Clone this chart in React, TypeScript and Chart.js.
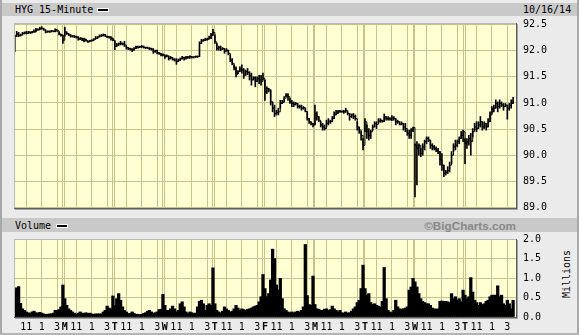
import React, { useEffect, useRef } from 'react';
import { Chart, registerables } from 'chart.js';

Chart.register(...registerables);

const MONO = '"DejaVu Sans Mono", monospace';
const GRID = '#c4c48c';

const dayLetters = ['F', 'M', 'T', 'W', 'T', 'F', 'M', 'T', 'W', 'T'];
const hourLabels = ['11', '1', '3'];
const hourOffsets = [6, 14, 22];
const barsPerDay = 26;
const priceTicks = [89.0, 89.5, 90.0, 90.5, 91.0, 91.5, 92.0, 92.5];
const volumeTicks = [0, 0.5, 1.0, 1.5, 2.0];

const closes = [
  92.28, 92.32, 92.29, 92.30, 92.33, 92.34, 92.33, 92.36, 92.34, 92.36, 92.36, 92.41, 92.40, 92.42, 92.43, 92.40, 92.36, 92.37, 92.36, 92.38, 92.37, 92.40, 92.38, 92.32, 92.30, 92.20,
  92.36, 92.33, 92.30, 92.28, 92.28, 92.27, 92.26, 92.22, 92.24, 92.20, 92.22, 92.19, 92.17, 92.19, 92.20, 92.22, 92.24, 92.26, 92.28, 92.29, 92.31, 92.28, 92.27, 92.26, 92.24, 92.20,
  92.08, 92.11, 92.13, 92.14, 92.13, 92.11, 92.06, 92.04, 92.03, 92.01, 92.04, 92.08, 92.06, 92.08, 92.08, 92.06, 92.06, 92.05, 92.04, 92.03, 91.98, 92.00, 91.96, 91.95, 91.92, 91.92,
  91.89, 91.90, 91.85, 91.87, 91.83, 91.82, 91.79, 91.82, 91.85, 91.87, 91.85, 91.87, 91.88, 91.89, 91.87, 91.88, 91.89, 91.89, 92.14, 92.19, 92.20, 92.21, 92.22, 92.25, 92.30, 92.35,
  92.17, 92.04, 92.06, 92.03, 92.04, 91.99, 92.01, 91.95, 91.82, 91.76, 91.67, 91.55, 91.60, 91.65, 91.63, 91.53, 91.60, 91.58, 91.53, 91.44, 91.48, 91.41, 91.47, 91.44, 91.41, 91.47,
  91.21, 91.28, 91.25, 91.02, 90.90, 90.80, 90.82, 90.83, 90.99, 91.01, 91.09, 91.15, 91.12, 91.02, 90.99, 90.97, 90.99, 90.93, 90.93, 90.90, 90.91, 90.84, 90.70, 90.64, 90.61, 90.58,
  90.80, 90.74, 90.67, 90.58, 90.54, 90.51, 90.61, 90.64, 90.64, 90.70, 90.77, 90.80, 90.84, 90.84, 90.84, 90.83, 90.86, 90.80, 90.74, 90.77, 90.74, 90.70, 90.54, 90.48, 90.38, 90.19,
  90.64, 90.45, 90.38, 90.45, 90.54, 90.61, 90.59, 90.65, 90.67, 90.65, 90.74, 90.70, 90.70, 90.69, 90.72, 90.70, 90.64, 90.64, 90.59, 90.61, 90.54, 90.51, 90.42, 90.38, 90.48, 90.53,
  90.19, 90.13, 90.19, 90.03, 90.16, 90.26, 90.32, 90.29, 90.19, 90.16, 90.13, 90.10, 90.07, 89.91, 89.81, 89.65, 89.67, 89.71, 89.81, 90.00, 90.16, 90.19, 90.26, 90.32, 90.38, 90.45,
  90.22, 90.26, 90.32, 90.26, 90.45, 90.54, 90.51, 90.58, 90.64, 90.54, 90.61, 90.54, 90.64, 90.77, 90.88, 90.90, 90.99, 90.93, 90.99, 90.96, 90.93, 90.96, 90.90, 90.95, 90.99, 91.06,
];

const highs = [
  92.30, 92.37, 92.35, 92.32, 92.35, 92.36, 92.37, 92.37, 92.36, 92.37, 92.40, 92.43, 92.42, 92.45, 92.46, 92.43, 92.40, 92.38, 92.38, 92.39, 92.38, 92.42, 92.40, 92.36, 92.32, 92.30,
  92.45, 92.36, 92.33, 92.31, 92.29, 92.29, 92.28, 92.27, 92.25, 92.24, 92.24, 92.22, 92.19, 92.20, 92.21, 92.23, 92.27, 92.27, 92.30, 92.31, 92.32, 92.31, 92.28, 92.27, 92.27, 92.24,
  92.19, 92.14, 92.15, 92.18, 92.15, 92.18, 92.09, 92.06, 92.05, 92.04, 92.06, 92.09, 92.09, 92.09, 92.10, 92.09, 92.07, 92.07, 92.06, 92.05, 92.04, 92.01, 92.01, 91.97, 91.95, 91.94,
  91.92, 91.92, 91.90, 91.89, 91.87, 91.85, 91.85, 91.84, 91.86, 91.89, 91.88, 91.89, 91.89, 91.90, 91.89, 91.89, 91.90, 91.90, 92.17, 92.22, 92.22, 92.24, 92.24, 92.28, 92.33, 92.41,
  92.30, 92.14, 92.09, 92.09, 92.06, 92.04, 92.04, 92.01, 91.92, 91.85, 91.73, 91.69, 91.62, 91.69, 91.73, 91.66, 91.63, 91.66, 91.60, 91.57, 91.50, 91.50, 91.50, 91.53, 91.53, 91.57,
  91.44, 91.31, 91.28, 91.25, 91.02, 90.96, 90.86, 90.90, 91.05, 91.05, 91.12, 91.18, 91.18, 91.09, 91.05, 91.02, 91.01, 90.99, 90.96, 90.96, 90.93, 90.90, 90.83, 90.70, 90.64, 90.61,
  90.96, 90.83, 90.74, 90.64, 90.61, 90.58, 90.67, 90.70, 90.67, 90.74, 90.83, 90.86, 90.86, 90.86, 90.85, 90.86, 90.90, 90.83, 90.80, 90.79, 90.80, 90.77, 90.64, 90.54, 90.45, 90.32,
  90.70, 90.58, 90.51, 90.48, 90.58, 90.64, 90.64, 90.70, 90.70, 90.67, 90.79, 90.74, 90.74, 90.72, 90.76, 90.74, 90.70, 90.67, 90.64, 90.64, 90.61, 90.61, 90.48, 90.48, 90.51, 90.54,
  90.22, 90.26, 90.22, 90.13, 90.22, 90.29, 90.35, 90.35, 90.29, 90.22, 90.19, 90.16, 90.13, 90.07, 90.03, 89.81, 89.71, 89.78, 89.87, 90.07, 90.22, 90.29, 90.29, 90.35, 90.45, 90.48,
  90.32, 90.32, 90.38, 90.42, 90.51, 90.61, 90.64, 90.64, 90.74, 90.64, 90.64, 90.61, 90.70, 90.83, 90.93, 90.96, 91.06, 91.02, 91.06, 91.02, 90.99, 90.99, 90.96, 90.99, 91.06, 91.11,
];

const lows = [
  91.98, 92.27, 92.27, 92.28, 92.30, 92.32, 92.32, 92.33, 92.33, 92.34, 92.35, 92.36, 92.39, 92.40, 92.41, 92.39, 92.34, 92.35, 92.35, 92.36, 92.36, 92.36, 92.37, 92.30, 92.28, 92.14,
  92.28, 92.31, 92.29, 92.26, 92.26, 92.25, 92.24, 92.20, 92.21, 92.19, 92.17, 92.18, 92.16, 92.17, 92.18, 92.19, 92.22, 92.23, 92.26, 92.27, 92.28, 92.27, 92.25, 92.24, 92.20, 92.19,
  92.02, 92.08, 92.10, 92.11, 92.11, 92.08, 92.03, 92.02, 92.01, 91.98, 92.01, 92.04, 92.05, 92.06, 92.06, 92.05, 92.04, 92.04, 92.02, 92.01, 91.95, 91.97, 91.94, 91.93, 91.90, 91.90,
  91.85, 91.88, 91.82, 91.84, 91.82, 91.80, 91.74, 91.79, 91.81, 91.84, 91.82, 91.84, 91.85, 91.85, 91.86, 91.86, 91.87, 91.87, 91.89, 92.14, 92.18, 92.19, 92.20, 92.22, 92.23, 92.29,
  92.14, 92.01, 92.01, 92.00, 92.02, 91.95, 91.99, 91.92, 91.79, 91.73, 91.63, 91.50, 91.56, 91.60, 91.57, 91.47, 91.53, 91.54, 91.44, 91.34, 91.44, 91.31, 91.41, 91.37, 91.34, 91.44,
  91.05, 91.18, 91.21, 90.96, 90.83, 90.74, 90.77, 90.77, 90.90, 90.99, 91.02, 91.12, 91.05, 90.99, 90.93, 90.93, 90.96, 90.90, 90.90, 90.86, 90.88, 90.83, 90.67, 90.61, 90.58, 90.54,
  90.58, 90.67, 90.64, 90.54, 90.48, 90.48, 90.54, 90.58, 90.61, 90.64, 90.70, 90.77, 90.80, 90.82, 90.82, 90.80, 90.82, 90.77, 90.67, 90.72, 90.70, 90.67, 90.48, 90.42, 90.29, 90.10,
  90.45, 90.32, 90.29, 90.32, 90.48, 90.54, 90.51, 90.61, 90.63, 90.63, 90.64, 90.67, 90.67, 90.67, 90.66, 90.67, 90.58, 90.61, 90.58, 90.58, 90.48, 90.45, 90.38, 90.32, 90.32, 90.45,
  89.20, 89.43, 90.00, 89.97, 90.00, 90.10, 90.22, 90.26, 90.13, 90.10, 90.10, 90.07, 90.03, 89.81, 89.71, 89.59, 89.62, 89.65, 89.68, 89.84, 90.07, 90.10, 90.16, 90.22, 90.32, 90.26,
  89.84, 90.13, 90.19, 90.00, 90.35, 90.48, 90.45, 90.51, 90.54, 90.48, 90.51, 90.48, 90.54, 90.64, 90.80, 90.83, 90.90, 90.83, 90.90, 90.93, 90.86, 90.93, 90.69, 90.86, 90.90, 90.99,
];

const volumes = [
  0.65, 0.75, 0.78, 0.35, 0.21, 0.17, 0.13, 0.11, 0.09, 0.13, 0.15, 0.11, 0.10, 0.12, 0.10, 0.08, 0.07, 0.07, 0.08, 0.08, 0.10, 0.17, 0.17, 0.19, 0.26, 0.82,
  0.47, 0.30, 0.21, 0.17, 0.13, 0.10, 0.07, 0.10, 0.13, 0.10, 0.09, 0.11, 0.09, 0.10, 0.08, 0.07, 0.08, 0.08, 0.08, 0.08, 0.13, 0.17, 0.28, 0.23, 0.21, 0.54,
  0.30, 0.47, 0.60, 0.43, 0.26, 0.17, 0.13, 0.09, 0.09, 0.13, 0.09, 0.07, 0.07, 0.06, 0.07, 0.09, 0.11, 0.15, 0.17, 0.13, 0.10, 0.11, 0.13, 0.19, 0.20, 0.58,
  0.30, 0.17, 0.17, 0.21, 0.28, 0.21, 0.13, 0.17, 0.34, 0.39, 0.26, 0.13, 0.09, 0.13, 0.11, 0.09, 0.10, 0.26, 0.40, 0.43, 0.34, 0.17, 0.30, 0.34, 0.30, 1.26,
  0.34, 0.17, 0.13, 0.11, 0.15, 0.26, 0.21, 0.17, 0.13, 0.15, 0.21, 0.30, 0.23, 0.17, 0.21, 0.19, 0.17, 0.20, 0.21, 0.23, 0.26, 0.28, 0.30, 0.39, 0.52, 1.09,
  0.73, 0.52, 0.60, 0.95, 1.74, 1.50, 0.82, 0.69, 0.99, 0.47, 0.21, 0.17, 0.13, 0.11, 0.13, 0.11, 0.13, 0.15, 0.13, 0.17, 0.26, 1.86, 0.55, 0.32, 0.30, 1.05,
  0.32, 0.21, 0.20, 0.17, 0.17, 0.20, 0.21, 0.17, 0.19, 0.28, 0.21, 0.17, 0.13, 0.17, 0.11, 0.10, 0.13, 0.10, 0.11, 0.15, 0.21, 0.26, 0.37, 0.43, 0.73, 1.33,
  0.73, 0.56, 0.60, 0.37, 0.32, 0.34, 0.30, 0.28, 0.26, 0.40, 1.27, 0.47, 0.17, 0.13, 0.11, 0.17, 0.43, 0.26, 0.21, 0.20, 0.21, 0.23, 0.26, 0.69, 0.77, 0.99,
  0.90, 0.77, 0.60, 0.47, 0.40, 0.37, 0.34, 0.34, 0.30, 0.23, 0.21, 0.20, 0.21, 0.40, 0.41, 0.40, 0.40, 0.39, 0.37, 0.60, 0.47, 0.52, 0.43, 0.47, 0.39, 0.69,
  0.56, 0.47, 0.52, 1.01, 0.64, 0.43, 0.37, 0.30, 0.37, 0.32, 0.34, 0.40, 0.43, 0.52, 0.56, 0.56, 0.56, 0.80, 0.52, 0.56, 0.34, 0.30, 0.43, 0.34, 0.21, 0.43,
];

type XTick = { value: number; label: string; bold: boolean };
const xTicks: XTick[] = [];
dayLetters.forEach((letter, d) => {
  const start = d * barsPerDay;
  if (d > 0) {
    xTicks.push({ value: start - 1, label: '', bold: false });
    xTicks.push({ value: start, label: letter, bold: true });
  }
  hourOffsets.forEach((off, k) => xTicks.push({ value: start + off, label: hourLabels[k], bold: false }));
});

const patternCache = new WeakMap<object, CanvasPattern | string>();
function getPattern(ctx: CanvasRenderingContext2D): CanvasPattern | string {
  const cached = patternCache.get(ctx);
  if (cached) return cached;
  const c = document.createElement('canvas');
  c.width = 2;
  c.height = 2;
  const g = c.getContext('2d')!;
  g.fillStyle = '#ffffc4';
  g.fillRect(0, 0, 2, 2);
  g.fillStyle = '#ffffe4';
  g.fillRect(0, 0, 1, 1);
  g.fillRect(1, 1, 1, 1);
  const p = ctx.createPattern(c, 'repeat') || '#ffffd4';
  patternCache.set(ctx, p);
  return p;
}

const framePlugin = {
  id: 'plotFrame',
  beforeDraw(chart: any) {
    const { ctx, chartArea: a } = chart;
    ctx.save();
    ctx.fillStyle = getPattern(ctx);
    ctx.fillRect(a.left, a.top, a.right - a.left, a.bottom - a.top);
    ctx.restore();
  },
  afterDraw(chart: any) {
    const { ctx, chartArea: a } = chart;
    const l = Math.round(a.left);
    const t = Math.round(a.top);
    const r = Math.round(a.right);
    const b = Math.round(a.bottom);
    ctx.save();
    ctx.fillStyle = '#b8b8b8';
    ctx.fillRect(l, t, r - l, 1);
    ctx.fillRect(l, t, 1, b - t);
    ctx.fillStyle = '#5c5c5c';
    ctx.fillRect(l, b, r - l + 1, 1);
    ctx.fillRect(r, t, 1, b - t + 1);
    ctx.fillStyle = '#a4a4a4';
    ctx.fillRect(l + 1, b + 1, r - l + 1, 1);
    ctx.fillRect(r + 1, t + 1, 1, b - t + 1);
    ctx.restore();
  },
};

function tickInfo(v: number) {
  return xTicks.find((t) => t.value === v);
}

function xScale(showLabels: boolean): any {
  return {
    type: 'linear',
    min: -0.4,
    max: 260.5,
    offset: false,
    afterBuildTicks: (s: any) => {
      s.ticks = xTicks.map((t) => ({ value: t.value }));
    },
    afterFit: (s: any) => {
      s.height = showLabels ? 18 : 0;
    },
    ticks: {
      display: showLabels,
      autoSkip: false,
      maxRotation: 0,
      minRotation: 0,
      padding: 4,
      color: '#000',
      callback: (v: any) => tickInfo(Number(v))?.label ?? '',
      font: (ctx: any) => ({
        family: MONO,
        size: 10,
        weight: ctx.tick && tickInfo(ctx.tick.value)?.bold ? 'bold' : 'normal',
      }),
    },
    grid: { color: GRID, lineWidth: 1, drawTicks: false, offset: false },
    border: { display: false },
  };
}

function yScale(min: number, max: number, ticks: number[]): any {
  return {
    type: 'linear',
    position: 'right',
    min,
    max,
    afterBuildTicks: (s: any) => {
      s.ticks = ticks.map((v) => ({ value: v }));
    },
    afterFit: (s: any) => {
      s.width = 63;
    },
    ticks: {
      padding: 7,
      color: '#000',
      font: { family: MONO, size: 10 },
      callback: (v: any) => Number(v).toFixed(1),
    },
    grid: { color: GRID, lineWidth: 1, drawTicks: false },
    border: { display: false },
  };
}

const baseOptions: any = {
  responsive: false,
  animation: false,
  devicePixelRatio: 1,
  events: [],
  plugins: { legend: { display: false }, tooltip: { enabled: false }, title: { display: false } },
};

export default function App() {
  const priceRef = useRef<HTMLCanvasElement>(null);
  const volRef = useRef<HTMLCanvasElement>(null);

  useEffect(() => {
    const priceChart = new Chart(priceRef.current as HTMLCanvasElement, {
      type: 'line',
      data: {
        datasets: [
          {
            type: 'bar',
            data: closes.map((_, i) => ({ x: i, y: [lows[i], highs[i]] })),
            backgroundColor: '#000',
            borderWidth: 0,
            barThickness: 1,
          } as any,
          {
            type: 'line',
            data: closes.map((c, i) => ({ x: i, y: c })),
            borderColor: '#000',
            borderWidth: 1,
            pointRadius: 0,
            stepped: true,
            fill: false,
          } as any,
        ],
      },
      options: {
        ...baseOptions,
        layout: { padding: { top: 23, left: 14, right: 0, bottom: 14 } },
        scales: {
          x: xScale(false),
          y: yScale(88.99, 92.53, priceTicks),
        },
      },
      plugins: [framePlugin as any],
    });

    const volChart = new Chart(volRef.current as HTMLCanvasElement, {
      type: 'line',
      data: {
        datasets: [
          {
            type: 'bar',
            data: volumes.map((v, i) => ({ x: i, y: v })),
            backgroundColor: '#000',
            borderWidth: 0,
            barThickness: 2.6,
          } as any,
        ],
      },
      options: {
        ...baseOptions,
        layout: { padding: { top: 14, left: 14, right: 0, bottom: 0 } },
        scales: {
          x: xScale(true),
          y: yScale(0, 2, volumeTicks),
        },
      },
      plugins: [framePlugin as any],
    });

    return () => {
      priceChart.destroy();
      volChart.destroy();
    };
  }, []);

  const abs = (s: React.CSSProperties): React.CSSProperties => ({ position: 'absolute', ...s });
  const legendBox: React.CSSProperties = {
    background: '#000',
    border: '1px solid #fff',
    width: 10,
    height: 2,
  };

  return (
    <div
      style={{
        position: 'fixed',
        left: 0,
        top: 0,
        width: 579,
        height: 335,
        background: '#ebebeb',
        overflow: 'hidden',
        fontFamily: MONO,
        fontSize: 10,
        color: '#000',
      }}
    >
      <div style={abs({ left: 0, top: 0, width: 2, height: 335, background: '#a8a8a8' })} />
      <div style={abs({ left: 577, top: 0, width: 2, height: 335, background: '#a8a8a8' })} />
      <div style={abs({ left: 0, top: 333, width: 579, height: 2, background: '#b4b4b4' })} />
      <div style={abs({ left: 2, top: 3, width: 575, height: 13, background: '#c9c9c9' })} />
      <div style={abs({ left: 2, top: 218, width: 575, height: 14, background: '#c9c9c9' })} />

      <div style={abs({ left: 15, top: 3, height: 13, lineHeight: '13px', whiteSpace: 'nowrap' })}>HYG 15-Minute</div>
      <div style={abs({ left: 97, top: 8, ...legendBox })} />
      <div style={abs({ left: 523, top: 3, height: 13, lineHeight: '13px', whiteSpace: 'nowrap' })}>10/16/14</div>

      <div style={abs({ left: 15, top: 218, height: 15, lineHeight: '15px', whiteSpace: 'nowrap' })}>Volume</div>
      <div style={abs({ left: 56, top: 224, ...legendBox })} />
      <div
        style={abs({
          right: 63,
          top: 218,
          height: 15,
          lineHeight: '15px',
          whiteSpace: 'nowrap',
          fontFamily: '"Liberation Sans", Arial, sans-serif',
          fontWeight: 'bold',
          fontSize: 11.7,
          color: '#888',
        })}
      >
        ©BigCharts.com
      </div>
      <div
        style={abs({
          left: 567,
          top: 274,
          transform: 'translate(-50%, -50%) rotate(-90deg)',
          whiteSpace: 'nowrap',
          lineHeight: '10px',
        })}
      >
        Millions
      </div>

      <canvas ref={priceRef} width={579} height={222} style={abs({ left: 0, top: 0, width: 579, height: 222 })} />
      <canvas ref={volRef} width={579} height={110} style={abs({ left: 0, top: 225, width: 579, height: 110 })} />
    </div>
  );
}
